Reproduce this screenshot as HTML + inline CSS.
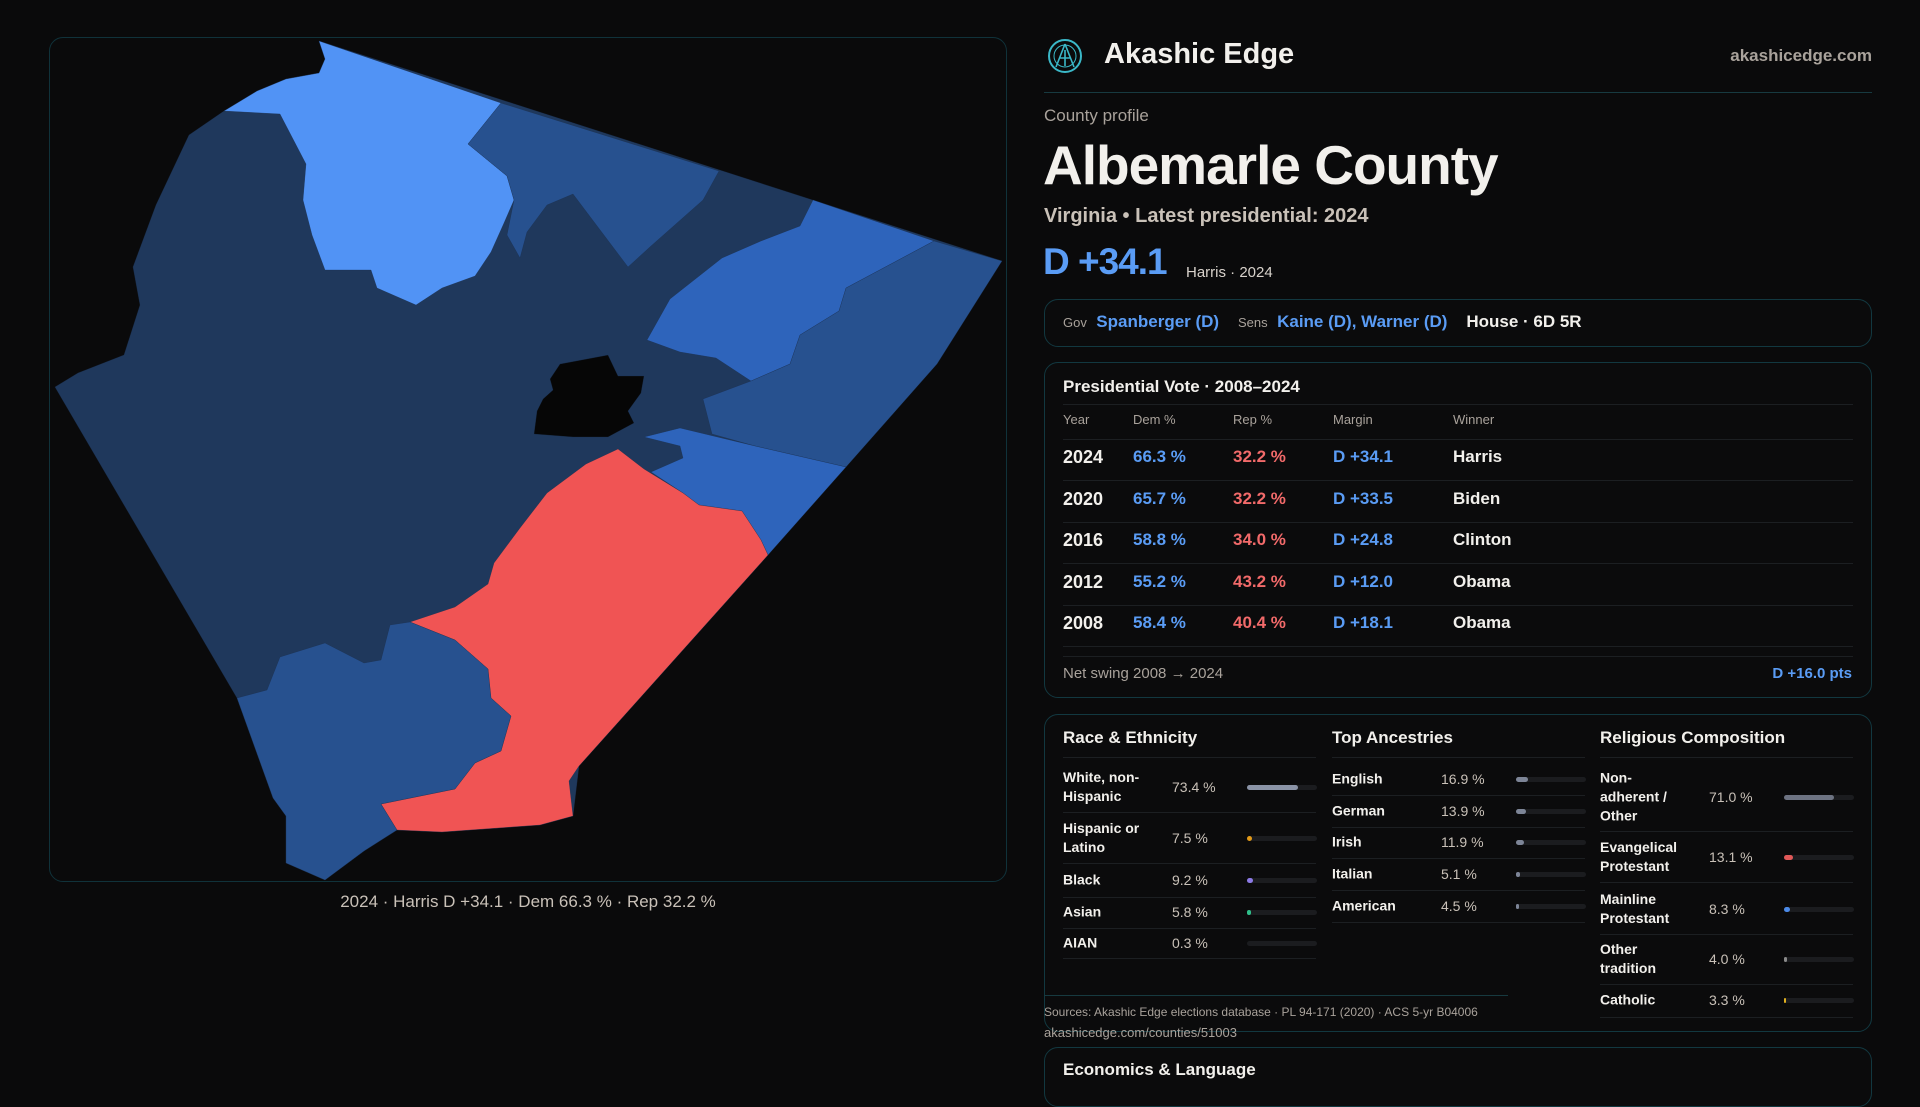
<!DOCTYPE html>
<html><head><meta charset="utf-8">
<style>
*{margin:0;padding:0;box-sizing:border-box}
body{width:1920px;height:1080px;background:#0a0a0b;font-family:"Liberation Sans",sans-serif;color:#f2f0ec;overflow:hidden;position:relative}
.abs{position:absolute;white-space:nowrap}
.box{position:absolute;border:1px solid #123840;border-radius:14px;background:#0b0b0c}
.mut{color:#a9a29b}
.blue{color:#5a9cf5}
.red{color:#f26a6a}
.sep{position:absolute;height:1px;background:#1c1f22}
.track{position:absolute;height:5px;border-radius:3px;background:#1b1c1f}
.fill{position:absolute;left:0;top:0;height:5px;border-radius:3px}
</style></head><body>

<div class="box" style="left:49px;top:37px;width:958px;height:845px;border-color:#10323a;background:#0a0a0b"></div>
<svg width="1920" height="1080" style="position:absolute;left:0;top:0">
<g id="map" stroke="#1a2f4c" stroke-width="0.5" stroke-opacity="0.6"></g>
</svg>
<div class="abs" style="left:0;width:1056px;text-align:center;top:892px;font-size:17px;color:#c9c1b8">2024 · Harris D +34.1 · Dem 66.3 % · Rep 32.2 %</div>

<svg width="36" height="36" style="position:absolute;left:1047px;top:38px" viewBox="0 0 36 36">
<circle cx="18" cy="18" r="16" fill="none" stroke="#3bb8c8" stroke-width="2"/>
<circle cx="18" cy="18" r="11" fill="none" stroke="#3bb8c8" stroke-width="1"/>
<path d="M18 6 L9 29 M18 6 L27 29 M12 20 L24 20 M18 12 L18 28" stroke="#3bb8c8" stroke-width="1.6" fill="none"/>
</svg>
<div class="abs" style="left:1104px;top:38px;font-size:29px;font-weight:bold">Akashic Edge</div>
<div class="abs mut" style="right:48px;top:46px;font-size:17px;font-weight:bold">akashicedge.com</div>
<div class="sep" style="left:1044px;width:828px;top:92px;background:#173a40"></div>

<div class="abs mut" style="left:1044px;top:106px;font-size:17px">County profile</div>
<div class="abs" style="left:1043px;top:133px;font-size:55px;font-weight:bold;letter-spacing:-1px">Albemarle County</div>
<div class="abs" style="left:1044px;top:205px;font-size:20px;font-weight:bold;color:#c9c1b8">Virginia • Latest presidential: 2024</div>
<div class="abs blue" style="left:1043px;top:241px;font-size:37px;font-weight:bold;letter-spacing:-1px">D +34.1</div>
<div class="abs" style="left:1186px;top:264px;font-size:15px;color:#d8d2cb">Harris · 2024</div>

<div class="box" style="left:1044px;top:299px;width:828px;height:48px"></div>
<div class="abs" style="left:1063px;top:312px;font-size:17px">
<span class="mut" style="font-size:13px">Gov</span>&nbsp; <span class="blue" style="font-weight:bold">Spanberger (D)</span>&nbsp;&nbsp;&nbsp; <span class="mut" style="font-size:13px">Sens</span>&nbsp; <span class="blue" style="font-weight:bold">Kaine (D), Warner (D)</span>&nbsp;&nbsp;&nbsp; <span style="font-weight:bold">House · 6D 5R</span></div>

<div class="box" style="left:1044px;top:362px;width:828px;height:336px"></div>
<div class="abs" style="left:1063px;top:377px;font-size:17px;font-weight:bold">Presidential Vote · 2008–2024</div>
<div class="sep" style="left:1063px;width:790px;top:404px"></div>
<div id="ptable"></div>
<div class="sep" style="left:1063px;width:790px;top:656px"></div>
<div class="abs mut" style="left:1063px;top:665px;font-size:15px">Net swing 2008 → 2024</div>
<div class="abs blue" style="right:68px;top:665px;font-size:15px;font-weight:bold">D +16.0 pts</div>

<div class="box" style="left:1044px;top:714px;width:828px;height:318px"></div>
<div id="demo"></div>
<div class="sep" style="left:1044px;width:464px;top:995px;background:#173a40"></div>
<div class="abs mut" style="left:1044px;top:1005px;font-size:12px">Sources: Akashic Edge elections database · PL 94-171 (2020) · ACS 5-yr B04006</div>
<div class="abs mut" style="left:1044px;top:1025px;font-size:13px">akashicedge.com/counties/51003</div>

<div class="box" style="left:1044px;top:1047px;width:828px;height:60px"></div>
<div class="abs" style="left:1063px;top:1060px;font-size:17px;font-weight:bold">Economics &amp; Language</div>

<script>
// Presidential data
const years=["2024","2020","2016","2012","2008"];
const demPct=[66.3,65.7,58.8,55.2,58.4];
const repPct=[32.2,32.2,34.0,43.2,40.4];
const margins=[34.1,33.5,24.8,12.0,18.1];
const winners=["Harris","Biden","Clinton","Obama","Obama"];
// Demographics
const raceLabels=["White, non-<br>Hispanic","Hispanic or<br>Latino","Black","Asian","AIAN"];
const raceVals=[73.4,7.5,9.2,5.8,0.3];
const ancLabels=["English","German","Irish","Italian","American"];
const ancVals=[16.9,13.9,11.9,5.1,4.5];
const relLabels=["Non-<br>adherent /<br>Other","Evangelical<br>Protestant","Mainline<br>Protestant","Other<br>tradition","Catholic"];
const relVals=[71.0,13.1,8.3,4.0,3.3];
// Map precinct margins (D minus R); county seat excluded (null)
const regionMargins=[40,70,45,52,45,52,-20,44,null];

const pt=document.getElementById('ptable');
function cell(x,y,txt,cls,size,bold,name){
  const d=document.createElement('div');
  d.className='abs '+(cls||'');
  d.style.left=x+'px';d.style.top=y+'px';d.style.fontSize=size+'px';
  if(bold)d.style.fontWeight='bold';
  d.innerHTML=txt;
  
  
  pt.appendChild(d);return d;
}
const hdr=["Year","Dem %","Rep %","Margin","Winner"],hx=[1063,1133,1233,1333,1453];
hdr.forEach((h,i)=>cell(hx[i],412,h,'mut',13,false,'column-header'));
const s0=document.createElement('div');s0.className='sep';s0.style.cssText='left:1063px;width:790px;top:439px';pt.appendChild(s0);
years.forEach((y,i)=>{
  const top=447+i*41.5;
  const m=margins[i];
  cell(1063,top,y,'',18,true,'year-cell');
  cell(1133,top,demPct[i].toFixed(1)+' %','blue',17,true,'dem-cell');
  cell(1233,top,repPct[i].toFixed(1)+' %','red',17,true,'rep-cell');
  cell(1333,top,(m>=0?'D +':'R +')+Math.abs(m).toFixed(1),'blue',17,true,'margin-cell');
  cell(1453,top,winners[i],'',17,true,'winner-cell');
  const s=document.createElement('div');s.className='sep';s.style.cssText='left:1063px;width:790px;top:'+(top+33)+'px';
  
  
  pt.appendChild(s);
});

const demo=document.getElementById('demo');
function section(title,x,labels,vals,colors,rowYs,rowH,name){
  const t=document.createElement('div');t.className='abs';
  t.style.cssText='left:'+x+'px;top:728px;font-size:17px;font-weight:bold';
  t.textContent=title;
  
  
  demo.appendChild(t);
  const s=document.createElement('div');s.className='sep';s.style.cssText='left:'+x+'px;width:253px;top:757px';demo.appendChild(s);
  labels.forEach((l,i)=>{
    const cy=rowYs[i];
    const lab=document.createElement('div');lab.className='abs';
    lab.style.cssText='left:'+x+'px;top:'+cy+'px;transform:translateY(-50%);font-size:14px;font-weight:bold;line-height:19px';
    lab.innerHTML=l;
    
    
    demo.appendChild(lab);
    const v=document.createElement('div');v.className='abs';
    v.style.cssText='left:'+(x+109)+'px;top:'+cy+'px;transform:translateY(-50%);font-size:14px;color:#c9c1b8';
    v.textContent=vals[i].toFixed(1)+' %';
    
    
    demo.appendChild(v);
    const tr=document.createElement('div');tr.className='track';
    const tw=70;
    tr.style.cssText='left:'+(x+184)+'px;width:'+tw+'px;top:'+(cy-2)+'px';
    
    
    const f=document.createElement('div');f.className='fill';
    f.style.width=Math.max(2,tw*vals[i]/100)+'px';f.style.background=colors[i];
    if(vals[i]<1)f.style.width='0px';
    
    
    tr.appendChild(f);demo.appendChild(tr);
    const sp=document.createElement('div');sp.className='sep';
    sp.style.cssText='left:'+x+'px;width:253px;top:'+(cy+rowH[i]/2)+'px';demo.appendChild(sp);
  });
}
section("Race & Ethnicity",1063,raceLabels,raceVals,["#8a93a6","#e39a18","#8c7ae6","#2fbf8a","#555"],[787,838,880,912,943],[50,50,34,32,30],'race');
section("Top Ancestries",1332,ancLabels,ancVals,["#7d8597","#7d8597","#7d8597","#7d8597","#7d8597"],[779,811,842,874,906],[32,32,32,32,32],'ancestry');
section("Religious Composition",1600,relLabels,relVals,["#6d7382","#e05858","#4b8ae8","#8a8a8a","#e0b020"],[797,857,909,959,1000],[68,50,50,50,34],'religion');

// Map
const marginColor=m=>m===null?'#060606':(m<0?'#f05454':(m>=65?'#5193f5':(m>=50?'#2e64bb':(m>=44?'#27518f':'#1f385c'))));
const regions=[
 "M319,41 L1002,261 L768,555 L579,766 L573,816 L540,825 L442,832 L397,830 L364,851 L325,880 L286,863 L286,816 L273,798 L237,698 L55,387 L78,373 L124,355 L140,305 L133,267 L156,205 L189,135 L224,111 L257,91 L286,79 L319,73 L325,59 Z",
 "M224,111 L257,91 L286,79 L319,73 L325,59 L319,41 L501,103 L468,144 L507,176 L514,200 L504,223 L491,252 L475,276 L442,288 L416,305 L377,288 L371,270 L325,270 L312,235 L303,200 L306,164 L280,114 Z",
 "M501,103 L719,171 L703,200 L651,246 L628,267 L573,194 L547,205 L527,232 L520,258 L507,235 L514,200 L507,176 L468,144 Z",
 "M813,200 L934,241 L891,264 L846,288 L839,311 L800,335 L790,364 L751,381 L716,358 L680,352 L647,340 L670,299 L722,258 L761,241 L800,226 Z",
 "M934,241 L1002,261 L937,364 L846,467 L755,446 L712,434 L703,399 L751,381 L790,364 L800,335 L839,311 L846,288 L891,264 Z",
 "M644,437 L680,428 L755,446 L846,467 L768,555 L761,540 L742,511 L699,505 L683,493 L651,472 L683,458 L680,446 Z",
 "M618,449 L644,469 L683,493 L699,505 L742,511 L761,540 L768,555 L579,766 L569,781 L573,816 L540,825 L442,832 L397,830 L381,804 L455,789 L475,763 L501,751 L511,716 L491,698 L488,669 L455,640 L410,622 L455,607 L488,584 L494,563 L520,528 L547,493 L586,464 Z",
 "M237,698 L267,690 L280,657 L325,643 L364,663 L381,660 L390,625 L410,622 L455,640 L488,669 L491,698 L511,716 L501,751 L475,763 L455,789 L381,804 L397,830 L364,851 L325,880 L286,863 L286,816 L273,798 Z",
 "M560,364 L608,355 L618,376 L644,376 L641,393 L628,411 L634,423 L608,437 L573,437 L534,434 L537,411 L543,399 L553,390 L550,379 Z"
];
const g=document.getElementById('map');
regions.forEach((d,i)=>{
  const p=document.createElementNS('http://www.w3.org/2000/svg','path');
  p.setAttribute('d',d);
  p.setAttribute('fill',marginColor(regionMargins[i]));
  
  
  g.appendChild(p);
});
</script>
</body></html>
